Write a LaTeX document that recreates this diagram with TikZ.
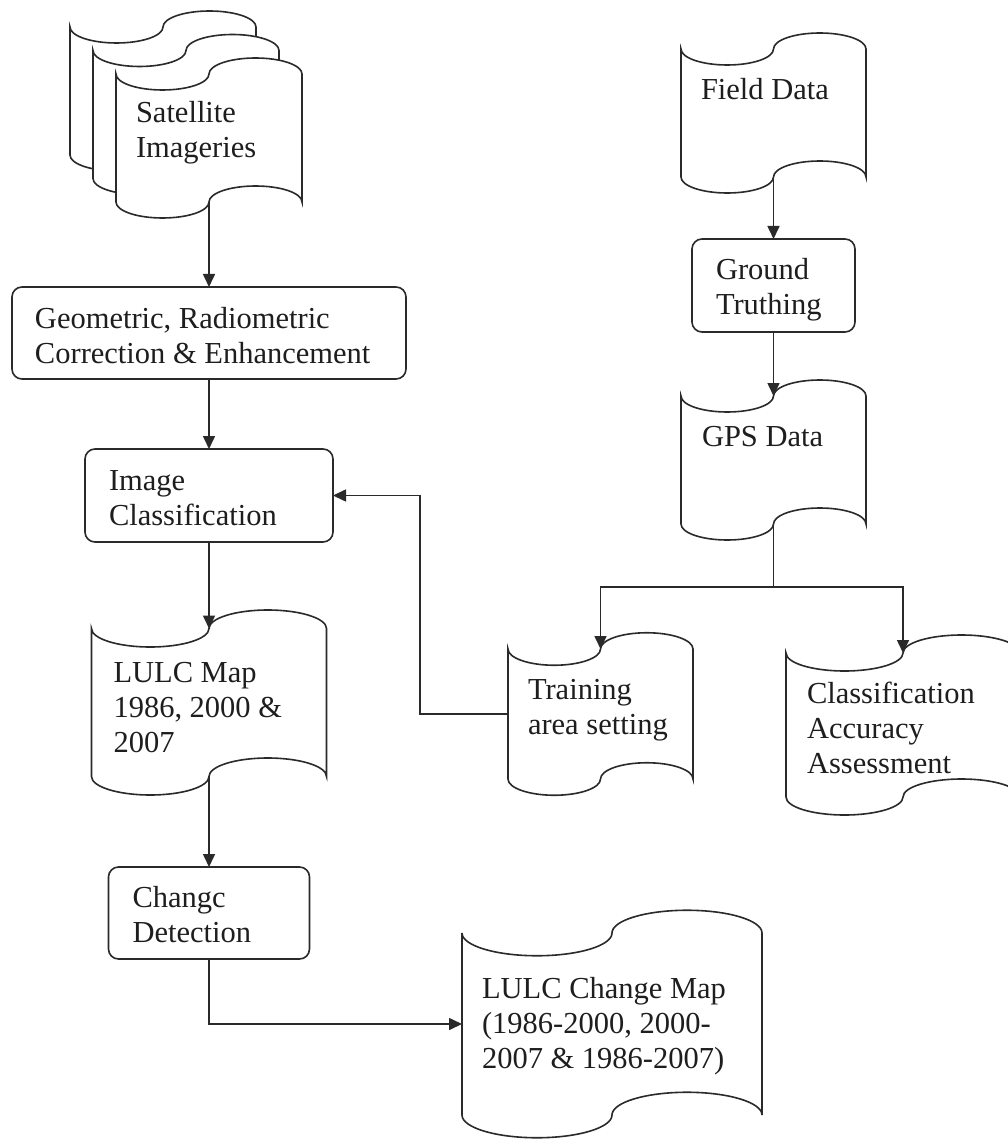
\documentclass[tikz,border=0pt]{standalone}
\usepackage{fontspec}
\setmainfont{Liberation Serif}
\usetikzlibrary{arrows.meta,calc,backgrounds}
\definecolor{lc}{HTML}{2A2A2A}
\definecolor{txt}{HTML}{1E1E1E}
\newcommand\mainfs{\fontsize{30.5pt}{35pt}\selectfont}
% text box: width, height, left offset, first baseline, text
\newcommand\tb[5]{\parbox[c][#2pt][t]{#1pt}{\leftskip=#3pt\relax\parindent=0pt\vspace*{\dimexpr#4pt-\ht\strutbox\relax}\strut#5}}
\newcommand\tapeoutline[1]{%
  \path[tapeline] let \p1=(#1.north west), \p2=(#1.south east),
    \n1={(\x2-\x1)/4}, \n2={(\y1-\y2)/8} in
    (\x1,\y1) arc[start angle=180,end angle=360,x radius=\n1,y radius=\n2]
    arc[start angle=180,end angle=0,x radius=\n1,y radius=\n2]
    -- (\x2,\y2)
    arc[start angle=0,end angle=180,x radius=\n1,y radius=\n2]
    arc[start angle=0,end angle=-180,x radius=\n1,y radius=\n2] -- cycle;}
\tikzset{
  rbox/.style={draw=lc, line width=1.6pt, rounded corners=10pt, inner sep=0pt, outer sep=0pt, font=\mainfs, text=txt},
  tapen/.style={inner sep=0pt, outer sep=0pt, font=\mainfs, text=txt},
  tapeline/.style={draw=lc, line width=1.6pt, fill=white},
  arr/.style={draw=lc, line width=1.6pt, -{Triangle[width=12pt,length=13pt]}},
  link/.style={draw=lc, line width=1.6pt}
}
\begin{document}
\begin{tikzpicture}[x=1pt,y=-1pt]
\useasboundingbox (0,0) rectangle (1007,1139);
% nodes
\node[tapen, minimum width=186pt, minimum height=128pt] (sat3) at (163,91) {};
\node[tapen, minimum width=186pt, minimum height=128pt] (sat2) at (186,114.5) {};
\node[tapen] (sat) at (209,138) {\tb{186}{128}{20}{49}{Satellite\\Imageries}};
\node[rbox] (geo) at (209,333) {\tb{394}{92}{23}{41}{Geometric, Radiometric\\Correction \& Enhancement}};
\node[rbox] (ic) at (209,495.5) {\tb{248}{93}{24}{41}{Image\\Classification}};
\node[tapen] (lulc) at (209,702.5) {\tb{235}{148}{22}{53.5}{LULC Map\\1986, 2000 \&\\2007}};
\node[rbox] (cd) at (209,913) {\tb{201}{92}{24}{40}{Changc\\Detection}};
\node[tapen] (lcm) at (612,1024) {\tb{300}{182}{20}{65}{LULC Change Map\\(1986-2000, 2000-\\2007 \& 1986-2007)}};
\node[tapen] (fd) at (773.5,113) {\tb{185}{128}{20}{51}{Field Data}};
\node[rbox] (gt) at (773.5,285.5) {\tb{163}{93}{24}{40}{Ground\\Truthing}};
\node[tapen] (gps) at (773.5,460) {\tb{185}{128}{21}{50}{GPS Data}};
\node[tapen] (tr) at (600.5,714) {\tb{185}{130}{20}{50}{Training\\area setting}};
\node[tapen] (caa) at (903,725) {\tb{234}{144}{21}{50}{Classification\\Accuracy\\Assessment}};
% tape outlines behind the text
\begin{pgfonlayer}{background}
  \fill[white] (0,0) rectangle (1007,1139);
  \tapeoutline{sat3}
  \tapeoutline{sat2}
  \tapeoutline{sat}
  \tapeoutline{lulc}
  \tapeoutline{lcm}
  \tapeoutline{fd}
  \tapeoutline{gps}
  \tapeoutline{tr}
  \tapeoutline{caa}
\end{pgfonlayer}
% connectors
\draw[arr] (sat.south) -- (geo.north);
\draw[arr] (geo.south) -- (ic.north);
\draw[arr] (ic.south) -- (lulc.north);
\draw[arr] (lulc.south) -- (cd.north);
\draw[arr] (cd.south) |- (lcm.west);
\draw[arr] (fd.south) -- (gt.north);
\draw[arr] (gt.south) -- (gps.north);
\coordinate (split) at (773.5,587);
\draw[arr] (gps.south) -- (split) -| (tr.north);
\draw[arr] (split) -| (caa.north);
\coordinate (fb) at (420,714);
\draw[arr] (tr.west) -- (fb) |- (ic.east);
\end{tikzpicture}
\end{document}
